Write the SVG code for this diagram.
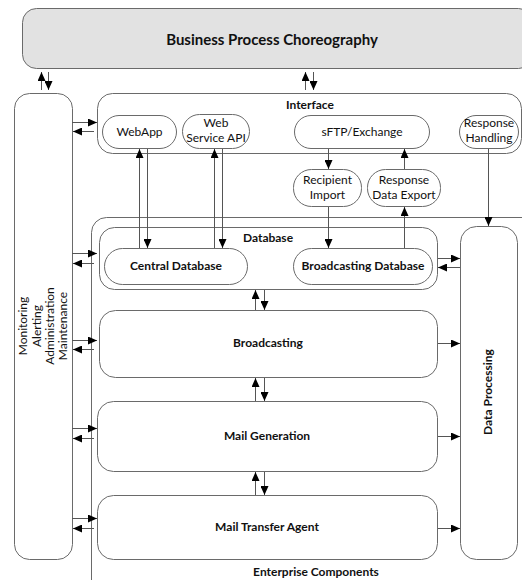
<svg xmlns="http://www.w3.org/2000/svg" width="522" height="580" viewBox="0 0 522 580">
<defs>
<marker id="ah" markerWidth="9" markerHeight="8" refX="9" refY="4" orient="auto" markerUnits="userSpaceOnUse">
<path d="M0,0 L9,4 L0,8 z" fill="#000"/>
</marker>
<style>
.box{fill:#fff;stroke:#6a6a6a;stroke-width:1}
.bpc{fill:#e2e2e2;stroke:#6a6a6a;stroke-width:1}
.t{font-family:Lato,"Open Sans","Liberation Sans",sans-serif;font-size:12px;fill:#111;text-anchor:middle}
.b{font-weight:bold}
.c line{stroke:#555;stroke-width:1;marker-end:url(#ah)}
</style>
</defs>
<rect width="522" height="580" fill="#fff"/>

<g id="bpc">
<rect class="bpc" x="22.5" y="8.5" width="510" height="60" rx="14"/>
<text class="t b" x="272" y="45" style="font-size:15px">Business Process Choreography</text>
</g>

<g id="enterprise">
<rect class="box" x="91.5" y="217.5" width="450" height="380" rx="15"/>
<text class="t b" x="316" y="576">Enterprise Components</text>
</g>

<g id="monitoring">
<rect class="box" x="14.5" y="93.5" width="58" height="466" rx="15"/>
<g transform="translate(43,326) rotate(-90)">
<text class="t" x="0" y="-16">Monitoring</text>
<text class="t" x="0" y="-2">Alerting</text>
<text class="t" x="0" y="11">Administration</text>
<text class="t" x="0" y="24">Maintenance</text>
</g>
</g>

<g id="interface">
<rect class="box" x="97.5" y="93.5" width="424" height="60" rx="15"/>
<text class="t b" x="310" y="109">Interface</text>
</g>

<g id="webapp">
<rect class="box" x="102.5" y="115.5" width="74" height="33" rx="16.5"/>
<text class="t" x="139.5" y="136">WebApp</text>
</g>

<g id="webservice">
<rect class="box" x="182.5" y="114.5" width="67" height="34" rx="17"/>
<text class="t" x="216" y="127">Web</text>
<text class="t" x="216" y="142">Service API</text>
</g>

<g id="sftp">
<rect class="box" x="294.5" y="115.5" width="135" height="33" rx="16.5"/>
<text class="t" x="362" y="136">sFTP/Exchange</text>
</g>

<g id="responsehandling">
<rect class="box" x="459.5" y="115.5" width="59" height="33" rx="16.5"/>
<text class="t" x="489" y="127">Response</text>
<text class="t" x="489" y="142">Handling</text>
</g>

<g id="recipientimport">
<rect class="box" x="293.5" y="169.5" width="68" height="37" rx="18"/>
<text class="t" x="327.5" y="184">Recipient</text>
<text class="t" x="327.5" y="199">Import</text>
</g>

<g id="responseexport">
<rect class="box" x="367.5" y="169.5" width="73" height="37" rx="18"/>
<text class="t" x="404" y="184">Response</text>
<text class="t" x="404" y="199">Data Export</text>
</g>

<g id="database">
<rect class="box" x="99.5" y="227.5" width="338" height="62" rx="15"/>
<text class="t b" x="268" y="242">Database</text>
</g>

<g id="centraldb">
<rect class="box" x="104.5" y="248.5" width="143" height="36" rx="18"/>
<text class="t b" x="176" y="270">Central Database</text>
</g>

<g id="broadcastingdb">
<rect class="box" x="293.5" y="248.5" width="139" height="36" rx="18"/>
<text class="t b" x="363" y="270">Broadcasting Database</text>
</g>

<g id="broadcasting">
<rect class="box" x="99.5" y="310.5" width="338" height="67" rx="16"/>
<text class="t b" x="268" y="347">Broadcasting</text>
</g>

<g id="mailgeneration">
<rect class="box" x="97.5" y="401.5" width="340" height="70" rx="16"/>
<text class="t b" x="267" y="440">Mail Generation</text>
</g>

<g id="mta">
<rect class="box" x="97.5" y="495.5" width="340" height="64" rx="16"/>
<text class="t b" x="267" y="531">Mail Transfer Agent</text>
</g>

<g id="dataprocessing">
<rect class="box" x="460.5" y="226.5" width="57" height="333" rx="16"/>
<g transform="translate(488,392) rotate(-90)">
<text class="t b" x="0" y="4">Data Processing</text>
</g>
</g>

<g id="connectors" class="c">
<!-- top -->
<line x1="41.5" y1="90" x2="41.5" y2="72"/>
<line x1="48.5" y1="72" x2="48.5" y2="90"/>
<line x1="305.5" y1="90" x2="305.5" y2="72"/>
<line x1="313.5" y1="72" x2="313.5" y2="90"/>
<!-- monitoring side -->
<line x1="72" y1="122.5" x2="97" y2="122.5"/>
<line x1="94" y1="131.5" x2="73" y2="131.5"/>
<line x1="72" y1="253.5" x2="97" y2="253.5"/>
<line x1="94" y1="263.5" x2="73" y2="263.5"/>
<line x1="72" y1="340.5" x2="97" y2="340.5"/>
<line x1="94" y1="349.5" x2="73" y2="349.5"/>
<line x1="72" y1="428.5" x2="97" y2="428.5"/>
<line x1="94" y1="438.5" x2="73" y2="438.5"/>
<line x1="72" y1="518.5" x2="97" y2="518.5"/>
<line x1="94" y1="528.5" x2="73" y2="528.5"/>
<!-- webapp / web service -->
<line x1="139.5" y1="248" x2="139.5" y2="149"/>
<line x1="147.5" y1="149" x2="147.5" y2="248"/>
<line x1="214.5" y1="248" x2="214.5" y2="149"/>
<line x1="222.5" y1="149" x2="222.5" y2="248"/>
<!-- sftp flows -->
<line x1="328.5" y1="149" x2="328.5" y2="169"/>
<line x1="404.5" y1="169" x2="404.5" y2="149"/>
<line x1="328.5" y1="207" x2="328.5" y2="248"/>
<line x1="404.5" y1="248" x2="404.5" y2="207"/>
<line x1="488.5" y1="149" x2="488.5" y2="226"/>
<!-- vertical between components -->
<line x1="255.5" y1="310" x2="255.5" y2="290"/>
<line x1="264.5" y1="290" x2="264.5" y2="310"/>
<line x1="255.5" y1="401" x2="255.5" y2="378"/>
<line x1="264.5" y1="378" x2="264.5" y2="401"/>
<line x1="255.5" y1="495" x2="255.5" y2="472"/>
<line x1="264.5" y1="472" x2="264.5" y2="495"/>
<!-- to data processing -->
<line x1="438" y1="258.5" x2="460" y2="258.5"/>
<line x1="460" y1="267.5" x2="438" y2="267.5"/>
<line x1="438" y1="343.5" x2="460" y2="343.5"/>
<line x1="438" y1="436.5" x2="460" y2="436.5"/>
<line x1="438" y1="528.5" x2="460" y2="528.5"/>
</g>
</svg>
